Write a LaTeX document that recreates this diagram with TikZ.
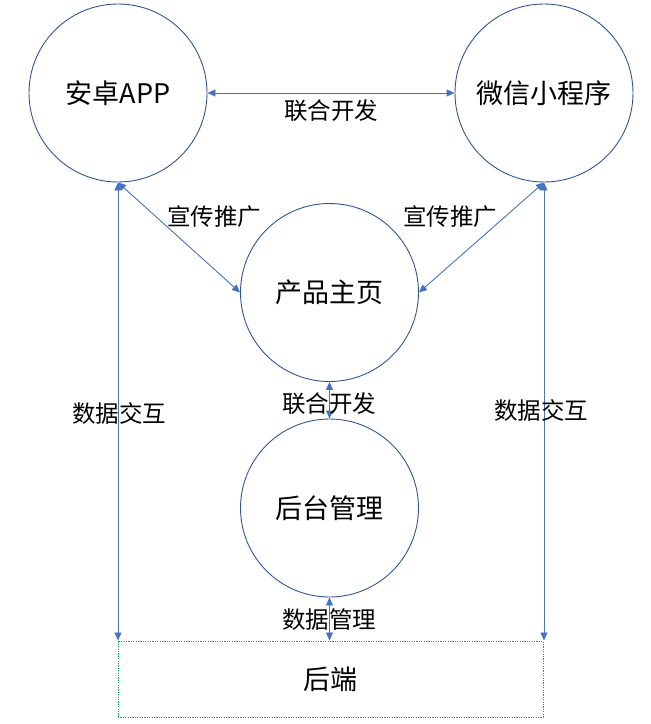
\documentclass[tikz,border=0pt]{standalone}
\usepackage{fontspec}
\setmainfont{Noto Sans CJK SC}
\usetikzlibrary{arrows.meta}
\definecolor{cb}{HTML}{2F5597}
\definecolor{ab}{HTML}{4472C4}
\definecolor{gb}{HTML}{00B050}
\begin{document}
\begin{tikzpicture}[x=1pt,y=-1pt,
 circ/.style={circle,draw=cb,line width=0.9pt,minimum size=178pt,inner sep=0pt,font=\fontsize{27}{30}\selectfont},
 lab/.style={font=\fontsize{23.5}{26}\selectfont,inner sep=0pt},
 tip/.tip={Triangle[width=7pt,length=8pt]},
 link/.style={draw=ab,line width=0.9pt,tip-tip}]
\useasboundingbox (0,0) rectangle (651,724);
\node[circ] (app) at (118,93) {安卓APP};
\node[circ] (wx) at (544,93) {微信小程序};
\node[circ] (prod) at (329.5,292.5) {产品主页};
\node[circ] (admin) at (329.5,508) {后台管理};
\node[draw=gb,line width=1pt,dash pattern=on 1.2pt off 1.2pt,minimum width=425pt,minimum height=76pt,inner sep=0pt,font=\fontsize{27}{30}\selectfont] (be) at (330.5,679) {后端};
\draw[link] (app.east) -- (wx.west);
\draw[link] (app.south) -- (prod.west);
\draw[link] (wx.south) -- (prod.east);
\draw[link] (prod.south) -- (admin.north);
\draw[link] (admin.south) -- (admin.south |- be.north);
\draw[link] (app.south) -- (app.south |- be.north);
\draw[link] (wx.south) -- (wx.south |- be.north);
\node[lab] (l1) at (331,111) {联合开发};
\node[lab] (l2) at (214,217) {宣传推广};
\node[lab] (l3) at (450,217) {宣传推广};
\node[lab] (l4) at (329,404) {联合开发};
\node[lab] (l5) at (119,413) {数据交互};
\node[lab] (l6) at (541,410) {数据交互};
\node[lab] (l7) at (329,620) {数据管理};
\end{tikzpicture}
\end{document}
